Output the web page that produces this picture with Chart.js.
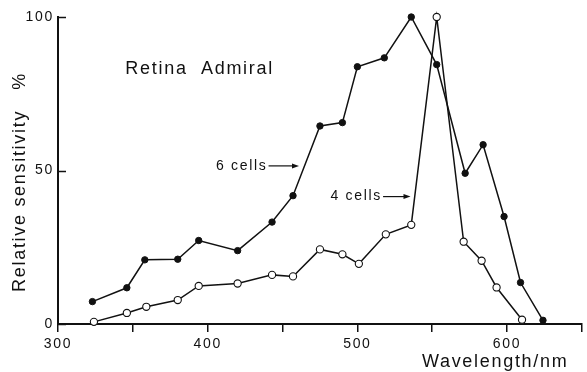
<!DOCTYPE html>
<html>
<head>
<meta charset="utf-8">
<script src="https://cdn.jsdelivr.net/npm/chart.js@4.4.1/dist/chart.umd.min.js"></script>
<style>
  html, body { margin: 0; padding: 0; background: #fff; }
  #wrap { width: 587px; height: 372px; }
</style>
</head>
<body>
<div id="wrap"><canvas id="chart"></canvas></div>
<script>
// 6 cells (filled circles)
const wavelengths6 = [323, 346, 358, 380, 394, 420, 443, 457, 475, 490, 500, 518, 536, 553, 572, 584, 598, 609, 624];
const sens6 = [7.3, 11.8, 20.9, 21.1, 27.2, 23.9, 33.2, 41.8, 64.5, 65.6, 83.8, 86.7, 100, 84.5, 49.1, 58.4, 35, 13.5, 1.2];

// 4 cells (open circles)
const wavelengths4 = [324, 346, 359, 380, 394, 420, 443, 457, 475, 490, 501, 519, 536, 553, 571, 583, 593, 610];
const sens4 = [0.7, 3.6, 5.6, 7.8, 12.4, 13.2, 16, 15.5, 24.3, 22.7, 19.6, 29.2, 32.3, 100, 26.8, 20.6, 11.9, 1.4];

const xTickLabels = [300, 400, 500, 600];
const yTickLabels = [0, 50, 100];

const FONT = '"Liberation Sans", Arial, Helvetica, sans-serif';
const INK = '#111';

// text labels placed in data units
const notes = [
    { text: 'Retina  Admiral', x: 345, y: 83, size: 18, align: 'left' },
    { text: '6 cells', x: 440, y: 51.5, size: 14, align: 'right', arrowTo: 461 },
    { text: '4 cells', x: 516.5, y: 41.5, size: 14, align: 'right', arrowTo: 535.5 }
];

function toPoints(xs, ys) {
    return xs.map((x, i) => ({ x, y: ys[i] }));
}

const spacingPlugin = {
    id: 'spacing',
    beforeDraw(chart) { chart.ctx.letterSpacing = '1.7px'; }
};

const extrasPlugin = {
    id: 'extras',
    afterDraw(chart) {
        const ctx = chart.ctx;
        const xs = chart.scales.x, ys = chart.scales.y;
        const area = chart.chartArea;
        ctx.save();
        ctx.letterSpacing = '1.7px';
        ctx.fillStyle = INK;
        ctx.strokeStyle = INK;

        // inward y ticks
        ctx.lineWidth = 1.5;
        yTickLabels.forEach(v => {
            const py = Math.round(ys.getPixelForValue(v)) + 0.5;
            ctx.beginPath();
            ctx.moveTo(area.left - 1, py);
            ctx.lineTo(area.left + 8, py);
            ctx.stroke();
        });

        // notes and arrows
        notes.forEach(n => {
            const px = xs.getPixelForValue(n.x);
            const py = ys.getPixelForValue(n.y);
            ctx.font = n.size + 'px ' + FONT;
            ctx.textAlign = n.align;
            ctx.textBaseline = 'middle';
            ctx.fillText(n.text, px, py);
            if (n.arrowTo) {
                const x1 = px + 1, x2 = xs.getPixelForValue(n.arrowTo);
                ctx.lineWidth = 1.2;
                ctx.beginPath();
                ctx.moveTo(x1, py);
                ctx.lineTo(x2 - 4, py);
                ctx.stroke();
                ctx.beginPath();
                ctx.moveTo(x2, py);
                ctx.lineTo(x2 - 7, py - 2.5);
                ctx.lineTo(x2 - 7, py + 2.5);
                ctx.closePath();
                ctx.fill();
            }
        });

        // axis titles
        ctx.font = '18px ' + FONT;
        ctx.textBaseline = 'middle';
        ctx.textAlign = 'right';
        ctx.fillText('Wavelength/nm', xs.getPixelForValue(641), area.bottom + 38);

        ctx.translate(20, 182);
        ctx.rotate(-Math.PI / 2);
        ctx.textAlign = 'center';
        ctx.fillText('Relative sensitivity   %', 0, 0);
        ctx.restore();
    }
};

new Chart(document.getElementById('chart'), {
    type: 'line',
    data: {
        datasets: [
            {
                label: '6 cells',
                data: toPoints(wavelengths6, sens6),
                borderColor: INK,
                borderWidth: 1.5,
                pointRadius: 3.2,
                pointBackgroundColor: INK,
                pointBorderColor: INK,
                pointBorderWidth: 1,
                tension: 0,
                clip: false
            },
            {
                label: '4 cells',
                data: toPoints(wavelengths4, sens4),
                borderColor: INK,
                borderWidth: 1.5,
                pointRadius: 3.6,
                pointBackgroundColor: '#fff',
                pointBorderColor: INK,
                pointBorderWidth: 1.1,
                tension: 0,
                clip: false
            }
        ]
    },
    options: {
        responsive: true,
        maintainAspectRatio: false,
        animation: false,
        devicePixelRatio: 1,
        layout: { padding: { top: 17, right: 1, bottom: 0, left: 0 } },
        plugins: {
            legend: { display: false },
            tooltip: { enabled: false }
        },
        scales: {
            x: {
                type: 'linear',
                min: 300,
                max: 650,
                afterFit(s) { s.height = 48; },
                border: { display: true, color: INK, width: 2 },
                grid: { drawOnChartArea: false, drawTicks: true, tickLength: 8, color: INK, lineWidth: 1.5 },
                ticks: {
                    stepSize: 50,
                    padding: 4,
                    color: INK,
                    font: { family: FONT, size: 14 },
                    maxRotation: 0,
                    callback: v => xTickLabels.includes(v) ? String(v) : ''
                }
            },
            y: {
                min: 0,
                max: 100,
                afterFit(s) { s.width = 58; },
                border: { display: true, color: INK, width: 2 },
                grid: { drawOnChartArea: false, drawTicks: false },
                ticks: {
                    stepSize: 50,
                    padding: 4,
                    color: INK,
                    font: { family: FONT, size: 14 },
                    callback: v => yTickLabels.includes(v) ? String(v) : ''
                }
            }
        }
    },
    plugins: [spacingPlugin, extrasPlugin]
});
</script>
</body>
</html>
